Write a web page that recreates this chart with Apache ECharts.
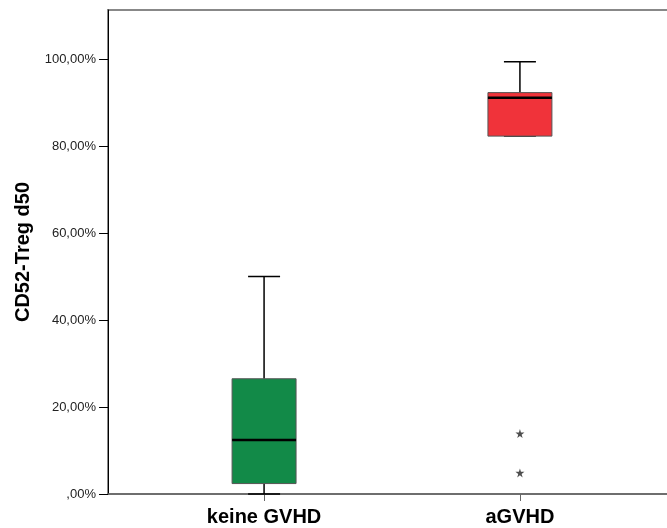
<!DOCTYPE html>
<html>
<head>
<meta charset="utf-8">
<script src="https://cdn.jsdelivr.net/npm/echarts@6/dist/echarts.min.js"></script>
<style>html,body{margin:0;padding:0;background:#fff}#c{width:667px;height:528px}</style>
</head>
<body>
<div id="c"></div>
<script>
// ---- data ----
const categories = ['keine GVHD', 'aGVHD'];
const categoryPos = [1, 2];
// [min, Q1, median, Q3, max] in percent
const boxKeine = [0, 2.4, 12.4, 26.5, 50.0];
const boxAGVHD = [82.3, 82.3, 91.1, 92.3, 99.4];
const outlierCategory = [2, 2];
const outlierValues = [13.9, 4.85];
const yTickValues = [0, 20, 40, 60, 80, 100];
const boxColors = ['#128A48', '#F0333A'];

const boxes = [boxKeine, boxAGVHD];
const boxSeriesData = boxes.map((b, i) => [categoryPos[i]].concat(b));
const outlierData = outlierCategory.map((c, i) => [c, outlierValues[i]]);

function fmtPct(v) {
  const s = v.toFixed(2).replace('.', ',');
  return (s.startsWith('0,') ? s.slice(1) : s) + '%';
}

const chart = echarts.init(document.getElementById('c'), null, {renderer: 'canvas'});
chart.setOption({
  animation: false,
  backgroundColor: '#fff',
  grid: {
    left: 108, top: 10, bottom: 34, right: -9,
    outerBoundsMode: 'none', containLabel: false,
    show: true, borderColor: '#888', borderWidth: 2, backgroundColor: 'transparent'
  },
  xAxis: {
    type: 'value', min: 0.39, max: 2.61,
    splitLine: {show: false},
    axisLine: {show: true, lineStyle: {color: '#666', width: 1.5}},
    axisTick: {show: true, customValues: categoryPos, length: 7, lineStyle: {color: '#666'}},
    axisLabel: {
      customValues: categoryPos,
      formatter: v => categories[categoryPos.indexOf(Math.round(v))] || '',
      fontFamily: 'Liberation Sans, Arial, sans-serif', fontWeight: 'bold', fontSize: 20,
      color: '#000', margin: 13
    }
  },
  yAxis: {
    type: 'value', min: 0, max: 111.3,
    name: 'CD52-Treg d50', nameLocation: 'middle', nameGap: 71,
    nameTextStyle: {fontFamily: 'Liberation Sans, Arial, sans-serif', fontWeight: 'bold', fontSize: 20, color: '#000'},
    splitLine: {show: false},
    axisLine: {show: true, lineStyle: {color: '#000', width: 1}},
    axisTick: {show: true, customValues: yTickValues, length: 9, lineStyle: {color: '#000'}},
    axisLabel: {
      customValues: yTickValues, formatter: v => fmtPct(v),
      fontFamily: 'Liberation Sans, Arial, sans-serif', fontSize: 13, color: '#222', margin: 12
    }
  },
  series: [
    {
      type: 'custom',
      data: boxSeriesData,
      encode: {x: 0, y: [1, 2, 3, 4, 5]},
      renderItem: function (params, api) {
        const x = api.value(0);
        const idx = params.dataIndex;
        const mn = api.coord([x, api.value(1)]);
        const q1 = api.coord([x, api.value(2)]);
        const md = api.coord([x, api.value(3)]);
        const q3 = api.coord([x, api.value(4)]);
        const mx = api.coord([x, api.value(5)]);
        const bw = api.size([0.25, 0])[0];
        const cw = api.size([0.125, 0])[0];
        const cx = mn[0];
        const lineStyle = {stroke: '#000', lineWidth: 1.5};
        return {
          type: 'group',
          children: [
            {type: 'line', shape: {x1: cx, y1: q3[1], x2: cx, y2: mx[1]}, style: lineStyle},
            {type: 'line', shape: {x1: cx, y1: q1[1], x2: cx, y2: mn[1]}, style: lineStyle},
            {type: 'line', shape: {x1: cx - cw / 2, y1: mx[1], x2: cx + cw / 2, y2: mx[1]}, style: lineStyle},
            {type: 'line', shape: {x1: cx - cw / 2, y1: mn[1], x2: cx + cw / 2, y2: mn[1]}, style: lineStyle},
            {type: 'rect', shape: {x: cx - bw / 2, y: q3[1], width: bw, height: q1[1] - q3[1]},
              style: {fill: boxColors[idx], stroke: '#555', lineWidth: 1}},
            {type: 'line', shape: {x1: cx - bw / 2, y1: md[1], x2: cx + bw / 2, y2: md[1]},
              style: {stroke: '#000', lineWidth: 2.5}}
          ]
        };
      }
    },
    {
      type: 'scatter',
      data: outlierData,
      symbol: 'path://M50,0 L61,35 L98,35 L68,57 L79,91 L50,70 L21,91 L32,57 L2,35 L39,35 Z',
      symbolSize: 9,
      itemStyle: {color: '#222'}
    }
  ]
});
</script>
</body>
</html>
